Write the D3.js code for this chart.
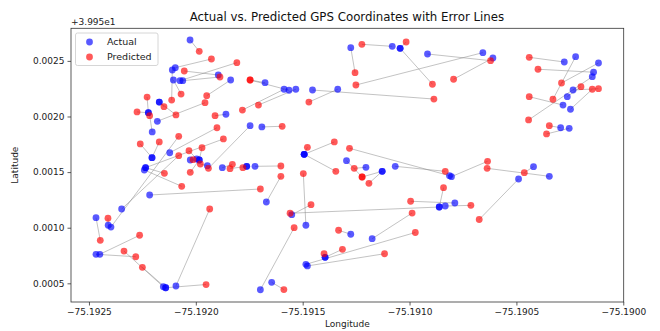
<!DOCTYPE html>
<html>
<head>
<meta charset="utf-8">
<script src="https://cdn.jsdelivr.net/npm/d3@7"></script>
<style>
  body { margin: 0; background: #fff; }
  svg { font-family: "DejaVu Sans", sans-serif; }
</style>
</head>
<body>
<div id="chart"></div>
<script>
var actualLon = [-75.192027,-75.192096,-75.191895,-75.192061,-75.192074,-75.192110,-75.192105,-75.191837,-75.192171,-75.192222,
  -75.192204,-75.192222,-75.192180,-75.192122,-75.192235,-75.192205,-75.192205,-75.192241,-75.192235,-75.192171,
  -75.192397,-75.192347,-75.192216,-75.192467,-75.192410,-75.192449,-75.192467,-75.192152,-75.192141,-75.192093,
  -75.192141,-75.191676,-75.191587,-75.191532,-75.191336,-75.191454,-75.191564,-75.191691,-75.191746,-75.191859,
  -75.191493,-75.191493,-75.191493,-75.192026,-75.191996,-75.191984,-75.191946,-75.191984,-75.191876,-75.191762,
  -75.191762,-75.191723,-75.191670,-75.191485,-75.191551,-75.190861,-75.191698,-75.191645,-75.191395,-75.191395,
  -75.191485,-75.191478,-75.191275,-75.191175,-75.190788,-75.190833,-75.190861,-75.190490,-75.190346,-75.190420,
  -75.190804,-75.190813,-75.191067,-75.191204,-75.191295,-75.191128,-75.191128,-75.191275,-75.191081,-75.191044,
  -75.191044,-75.190916,-75.190657,-75.190610,-75.190276,-75.190139,-75.190223,-75.190116,-75.190145,-75.190262,
  -75.190235,-75.190247,-75.190282,-75.190293,-75.190253];
var actualLat = [39.952688,39.952439,39.952373,39.952322,39.952322,39.952418,39.952328,39.952328,39.952130,39.952034,
  39.951861,39.952034,39.951957,39.951674,39.951540,39.951630,39.951630,39.951519,39.951540,39.952130,
  39.951006,39.951168,39.951294,39.951090,39.951022,39.950761,39.950761,39.950469,39.950460,39.950476,
  39.950460,39.952304,39.952245,39.952245,39.952245,39.952238,39.952236,39.951906,39.951917,39.952020,
  39.951660,39.951660,39.951660,39.951609,39.951618,39.951609,39.951558,39.951609,39.951540,39.951552,
  39.951552,39.951552,39.951231,39.951022,39.951117,39.951186,39.950442,39.950509,39.950734,39.950734,
  39.950671,39.950656,39.950941,39.950901,39.951222,39.951195,39.951186,39.951438,39.951462,39.951549,
  39.951459,39.951468,39.951552,39.951543,39.951603,39.951507,39.951507,39.952619,39.952631,39.952613,
  39.952613,39.952562,39.952574,39.952526,39.952490,39.952398,39.952538,39.952481,39.952358,39.952178,
  39.952238,39.952065,39.952103,39.951899,39.951894];
var predLon = [-75.191984,-75.191927,-75.192054,-75.191887,-75.191808,-75.192113,-75.192069,-75.191949,-75.192149,-75.192228,
  -75.192216,-75.192275,-75.191957,-75.191901,-75.191871,-75.192171,-75.192260,-75.192066,-75.192147,-75.192093,
  -75.192080,-75.192080,-75.191698,-75.192447,-75.192411,-75.192263,-75.192281,-75.192336,-75.192250,-75.191935,
  -75.191952,-75.191746,-75.191782,-75.191707,-75.191471,-75.190886,-75.191746,-75.191596,-75.191941,-75.191910,
  -75.191478,-75.191352,-75.191345,-75.192013,-75.192032,-75.191971,-75.191979,-75.192026,-75.191829,-75.191780,
  -75.191840,-75.191602,-75.191602,-75.191497,-75.191461,-75.191559,-75.191540,-75.191588,-75.191400,-75.191314,
  -75.190973,-75.191117,-75.191332,-75.190988,-75.190995,-75.190713,-75.190841,-75.190674,-75.190637,-75.190463,
  -75.190635,-75.191281,-75.190833,-75.191259,-75.191222,-75.191190,-75.191222,-75.191255,-75.191223,-75.191016,
  -75.190893,-75.190621,-75.191251,-75.190794,-75.190440,-75.190399,-75.190329,-75.190289,-75.190443,-75.190198,
  -75.190116,-75.190145,-75.190440,-75.190346,-75.190359];
var predLat = [39.952586,39.952517,39.952409,39.952355,39.952484,39.952148,39.952202,39.952187,39.952088,39.952175,
  39.952007,39.952041,39.952124,39.951899,39.951798,39.951771,39.951753,39.951372,39.951489,39.952014,
  39.951822,39.951648,39.951348,39.950887,39.951085,39.950932,39.950739,39.950790,39.950644,39.951168,
  39.950489,39.952328,39.952058,39.952103,39.952130,39.952157,39.952328,39.951912,39.951534,39.952007,
  39.951723,39.951771,39.951507,39.951612,39.951692,39.951719,39.951573,39.951498,39.951570,39.951540,
  39.951531,39.951555,39.951462,39.951487,39.951207,39.951130,39.951000,39.950444,39.950766,39.950806,
  39.950957,39.950766,39.950977,39.951132,39.951238,39.951201,39.951360,39.951074,39.951534,39.951495,
  39.951597,39.951714,39.951507,39.951534,39.951456,39.951399,39.951456,39.952394,39.952649,39.952670,
  39.952290,39.952502,39.952283,39.952335,39.952532,39.952425,39.952155,39.952301,39.951969,39.952268,
  39.952250,39.952245,39.952178,39.951917,39.951843];

var xTicks = [-75.1925, -75.1920, -75.1915, -75.1910, -75.1905, -75.1900];
var yOffset = 39.95;
var yTicks = [0.0005, 0.0010, 0.0015, 0.0020, 0.0025];

var width = 660, height = 331;
var plotLeft = 71, plotRight = 623.7, plotTop = 28.3, plotBottom = 302;

var svg = d3.select('#chart').append('svg')
  .attr('width', width)
  .attr('height', height);

var x = d3.scaleLinear().domain([-75.192584, -75.189998]).range([plotLeft, plotRight]);
var y = d3.scaleLinear().domain([39.950332, 39.952793]).range([plotBottom, plotTop]);

var pairs = actualLon.map(function(d, i) {
  return { ax: d, ay: actualLat[i], px: predLon[i], py: predLat[i] };
});

// error lines
svg.append('g').selectAll('line')
  .data(pairs)
  .enter().append('line')
  .attr('x1', function(d) { return x(d.ax); })
  .attr('y1', function(d) { return y(d.ay); })
  .attr('x2', function(d) { return x(d.px); })
  .attr('y2', function(d) { return y(d.py); })
  .attr('stroke', '#808080')
  .attr('stroke-opacity', 0.6)
  .attr('stroke-width', 0.8);

svg.append('g').selectAll('circle')
  .data(pairs)
  .enter().append('circle')
  .attr('cx', function(d) { return x(d.ax); })
  .attr('cy', function(d) { return y(d.ay); })
  .attr('r', 3.4)
  .attr('fill', 'blue')
  .attr('fill-opacity', 0.65);

svg.append('g').selectAll('circle')
  .data(pairs)
  .enter().append('circle')
  .attr('cx', function(d) { return x(d.px); })
  .attr('cy', function(d) { return y(d.py); })
  .attr('r', 3.4)
  .attr('fill', 'red')
  .attr('fill-opacity', 0.65);

var xAxis = d3.axisBottom(x)
  .tickValues(xTicks)
  .tickSize(3.5)
  .tickPadding(3)
  .tickFormat(function(d) { return d.toFixed(4).replace('-', '\u2212'); });

var yAxis = d3.axisLeft(y)
  .tickValues(yTicks.map(function(t) { return yOffset + t; }))
  .tickSize(3.5)
  .tickPadding(3)
  .tickFormat(function(d) { return (d - yOffset).toFixed(4); });

var gx = svg.append('g')
  .attr('transform', 'translate(0,' + plotBottom + ')')
  .call(xAxis);
var gy = svg.append('g')
  .attr('transform', 'translate(' + plotLeft + ',0)')
  .call(yAxis);

[gx, gy].forEach(function(g) {
  g.select('.domain').remove();
  g.selectAll('.tick line').attr('stroke', '#333').attr('stroke-width', 0.8);
  g.selectAll('.tick text').attr('fill', '#222').style('font-size', '9px')
    .style('font-family', '"DejaVu Sans", sans-serif');
});

svg.append('rect')
  .attr('x', plotLeft).attr('y', plotTop)
  .attr('width', plotRight - plotLeft).attr('height', plotBottom - plotTop)
  .attr('fill', 'none')
  .attr('stroke', '#333')
  .attr('stroke-width', 0.8);

svg.append('text')
  .attr('x', 347).attr('y', 21)
  .attr('text-anchor', 'middle')
  .style('font-size', '11.8px')
  .attr('fill', '#111')
  .text('Actual vs. Predicted GPS Coordinates with Error Lines');

svg.append('text')
  .attr('x', plotLeft).attr('y', 25)
  .style('font-size', '9px')
  .attr('fill', '#222')
  .text('+3.995e1');

svg.append('text')
  .attr('x', (plotLeft + plotRight) / 2).attr('y', 327)
  .attr('text-anchor', 'middle')
  .style('font-size', '9px')
  .attr('fill', '#222')
  .text('Longitude');

svg.append('text')
  .attr('transform', 'translate(18,' + ((plotTop + plotBottom) / 2) + ') rotate(-90)')
  .attr('text-anchor', 'middle')
  .style('font-size', '9px')
  .attr('fill', '#222')
  .text('Latitude');

// legend
var legend = svg.append('g').attr('transform', 'translate(75.5,33)');
legend.append('rect')
  .attr('width', 82.5).attr('height', 32.5)
  .attr('rx', 2)
  .attr('fill', '#fff').attr('fill-opacity', 0.8)
  .attr('stroke', '#ccc').attr('stroke-width', 0.8);
var legendItems = [{ label: 'Actual', color: 'blue' }, { label: 'Predicted', color: 'red' }];
legendItems.forEach(function(d, i) {
  legend.append('circle')
    .attr('cx', 14).attr('cy', 9 + i * 15)
    .attr('r', 3.4)
    .attr('fill', d.color).attr('fill-opacity', 0.65);
  legend.append('text')
    .attr('x', 31.5).attr('y', 9 + i * 15)
    .attr('dy', '0.35em')
    .style('font-size', '9.5px')
    .attr('fill', '#222')
    .text(d.label);
});
</script>
</body>
</html>
